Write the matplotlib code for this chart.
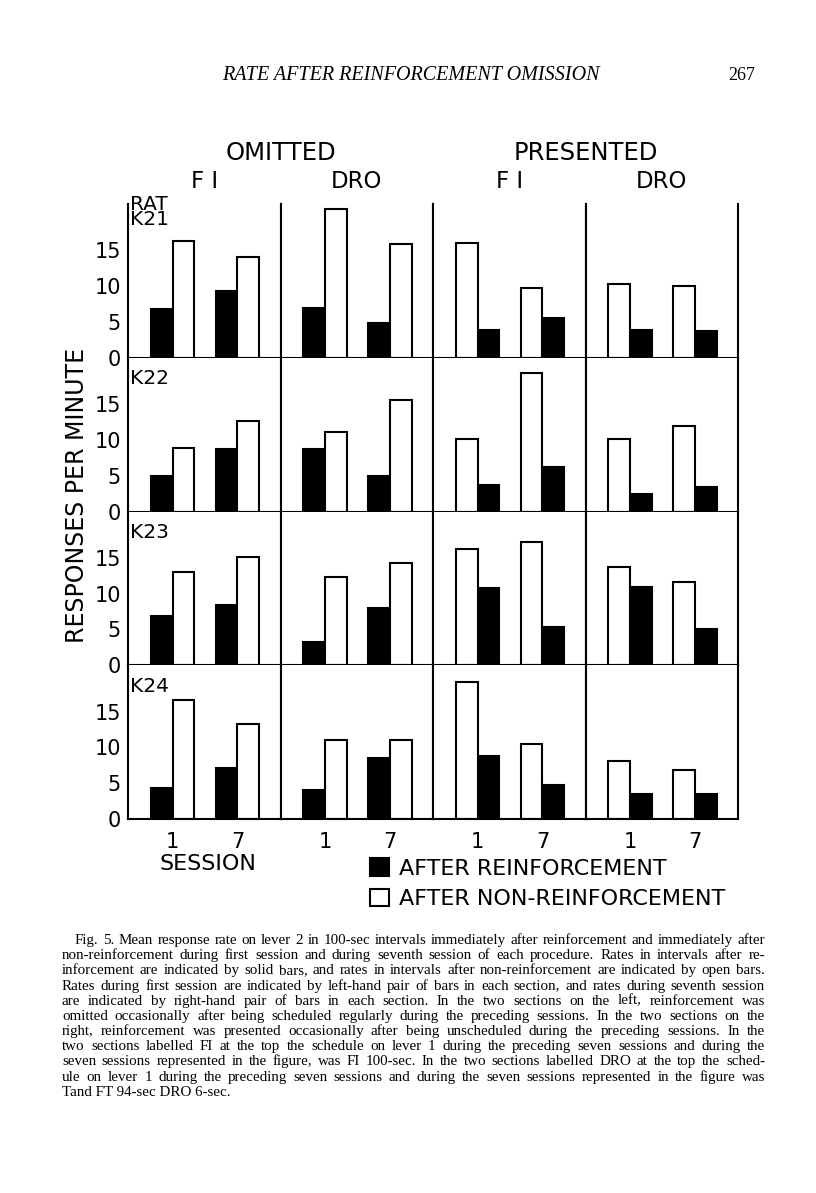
import matplotlib
matplotlib.use("Agg")
import matplotlib.pyplot as plt

rats = ["RAT\nK21", "K22", "K23", "K24"]
conditions = ["OMITTED", "PRESENTED"]
schedules = ["F I", "DRO", "F I", "DRO"]
sessions = ["1", "7"]

# responses per minute; each row is one rat, pairs are (session 1, session 7)
# for sections: omitted FI, omitted DRO, presented FI, presented DRO
after_reinf = [
    [6.8, 9.4, 7.0, 4.9, 3.9, 5.6, 3.9, 3.7],
    [4.9, 8.7, 8.7, 5.0, 3.7, 6.2, 2.5, 3.4],
    [6.9, 8.4, 3.2, 8.0, 10.8, 5.4, 11.0, 5.1],
    [4.3, 7.1, 4.1, 8.5, 8.8, 4.7, 3.5, 3.5],
]
after_nonreinf = [
    [16.3, 14.1, 20.8, 15.9, 16.1, 9.7, 10.3, 10.0],
    [8.9, 12.7, 11.1, 15.6, 10.1, 19.3, 10.1, 11.9],
    [13.1, 15.2, 12.4, 14.3, 16.2, 17.2, 13.8, 11.6],
    [16.7, 13.3, 11.1, 11.1, 19.2, 10.5, 8.1, 6.9],
]
legend_labels = ["AFTER REINFORCEMENT", "AFTER NON-REINFORCEMENT"]

caption = [
    "Fig. 5. Mean response rate on lever 2 in 100-sec intervals immediately after reinforcement and immediately after",
    "non-reinforcement during first session and during seventh session of each procedure. Rates in intervals after re-",
    "inforcement are indicated by solid bars, and rates in intervals after non-reinforcement are indicated by open bars.",
    "Rates during first session are indicated by left-hand pair of bars in each section, and rates during seventh session",
    "are indicated by right-hand pair of bars in each section. In the two sections on the left, reinforcement was",
    "omitted occasionally after being scheduled regularly during the preceding sessions. In the two sections on the",
    "right, reinforcement was presented occasionally after being unscheduled during the preceding sessions. In the",
    "two sections labelled FI at the top the schedule on lever 1 during the preceding seven sessions and during the",
    "seven sessions represented in the figure, was FI 100-sec. In the two sections labelled DRO at the top the sched-",
    "ule on lever 1 during the preceding seven sessions and during the seven sessions represented in the figure was",
    "Tand FT 94-sec DRO 6-sec.",
]

W, H = 816, 1193
plt.rcParams["font.family"] = ["DejaVu Sans"]
fig = plt.figure(figsize=(W / 100, H / 100), dpi=100)
axes = fig.subplots(4, 4, gridspec_kw=dict(left=128 / W, right=738 / W, top=1 - 204 / H,
                                          bottom=1 - 819 / H, wspace=0, hspace=0))

lw = 1.5
centers = [0.292, 0.718]
bw = 0.143
handles = None
for i in range(4):
    for j in range(4):
        ax = axes[i, j]
        blk = after_reinf[i][2 * j:2 * j + 2]
        opn = after_nonreinf[i][2 * j:2 * j + 2]
        lefts = [c - bw / 2 for c in centers]
        rights = [c + bw / 2 for c in centers]
        # omitted: solid bar first, presented: open bar first
        bpos, opos = (lefts, rights) if j < 2 else (rights, lefts)
        hb = ax.bar(bpos, blk, width=bw, color="black", edgecolor="black", linewidth=lw)
        ho = ax.bar(opos, opn, width=bw, color="white", edgecolor="black", linewidth=lw)
        if handles is None:
            handles = [hb, ho]
        ax.set_xlim(0, 1)
        ax.set_ylim(0, 21.5)
        ax.spines["top"].set_visible(False)
        for s in ("left", "right", "bottom"):
            ax.spines[s].set_linewidth(lw)
        ax.set_yticks([0, 5, 10, 15])
        ax.tick_params(axis="y", length=0, pad=5, labelsize=15, labelleft=(j == 0))
        if i == 3:
            ax.set_xticks(centers)
            ax.set_xticklabels(sessions)
            ax.tick_params(axis="x", length=0, pad=9, labelsize=15)
        else:
            ax.set_xticks([])
    ky = 0.948 if i == 0 else 0.862
    axes[i, 0].text(0.012, ky, rats[i], transform=axes[i, 0].transAxes,
                    fontsize=14.5, ha="left", va="center", linespacing=0.72)

# column headers
for k, cond in enumerate(conditions):
    x = axes[0, 2 * k].get_position().x1
    fig.text(x, 1 - 153 / H, cond, fontsize=17.5, ha="center", va="center")
for j, sch in enumerate(schedules):
    p = axes[0, j].get_position()
    fig.text((p.x0 + p.x1) / 2, 1 - 181 / H, sch, fontsize=16.5, ha="center", va="center")

fig.text(77 / W, 1 - 495 / H, "RESPONSES PER MINUTE", rotation=90,
         fontsize=17, ha="center", va="center")
p = axes[3, 0].get_position()
fig.text((p.x0 + p.x1) / 2 + 4 / W, 1 - 864 / H, "SESSION", fontsize=16, ha="center", va="center")

fig.legend(handles=handles, labels=legend_labels, loc="upper left",
           bbox_to_anchor=(370 / W, 1 - 858 / H), frameon=False, fontsize=16,
           handlelength=0.85, handleheight=0.85, handletextpad=0.45,
           labelspacing=0.45, borderpad=0, borderaxespad=0)

# running head
fig.text(411 / W, 1 - 76 / H, "RATE AFTER REINFORCEMENT OMISSION", family="Liberation Serif",
         style="italic", fontsize=14.5, ha="center", va="center")
fig.text(755 / W, 1 - 76 / H, "267", family="Liberation Serif", fontsize=13,
         ha="right", va="center")

# justified caption
renderer = fig.canvas.get_renderer()
cap_kw = dict(family="Liberation Serif", fontsize=10.8, va="baseline")
for k, line in enumerate(caption):
    y = 1 - (944 + k * 15.17) / H
    x0 = 75 if k == 0 else 62
    if k == len(caption) - 1:
        fig.text(x0 / W, y, line, **cap_kw)
        continue
    words = line.split(" ")
    texts = [fig.text(0, y, w, **cap_kw) for w in words]
    widths = [t.get_window_extent(renderer).width for t in texts]
    gap = max(2.0, (765 - x0 - sum(widths)) / (len(words) - 1))
    x = x0
    for t, wd in zip(texts, widths):
        t.set_x(x / W)
        x += wd + gap

fig.savefig("out.png", dpi=100, facecolor="white")
